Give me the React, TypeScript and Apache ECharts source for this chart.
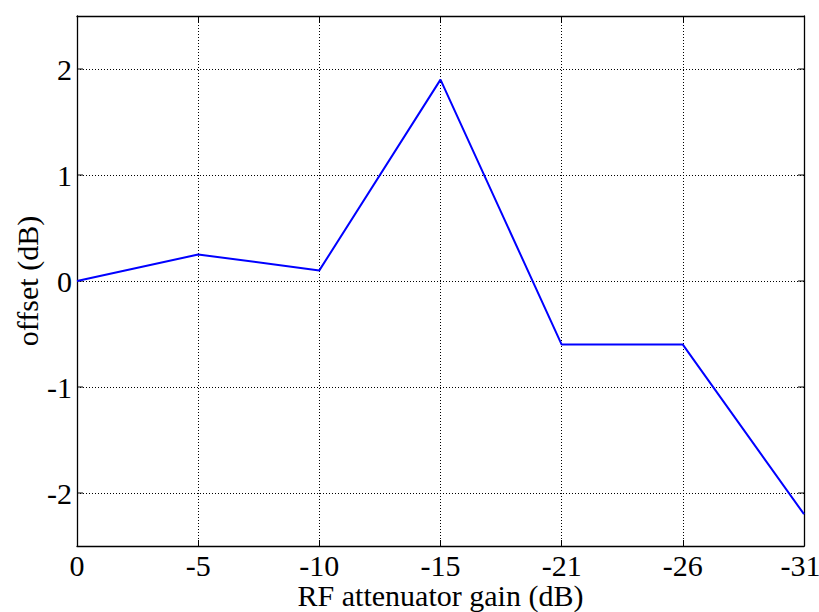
import React, { useEffect, useRef } from "react";
import * as echarts from "echarts";

const categories = ["0", "-5", "-10", "-15", "-21", "-26", "-31"];
const offsetValues = [0, 0.25, 0.1, 1.9, -0.6, -0.6, -2.2];
const yTicks = [-2, -1, 0, 1, 2];

export default function App() {
  const ref = useRef<HTMLDivElement>(null);
  useEffect(() => {
    if (!ref.current) return;
    const chart = echarts.init(ref.current, undefined, { renderer: "svg" });
    const font = "Liberation Serif";
    const fs = 30;
    const lastIdx = categories.length - 1;
    const gridLine = { show: true, lineStyle: { color: "#000", type: [1, 2] as any, width: 1 } };
    chart.setOption({
      animation: false,
      backgroundColor: "#fff",
      grid: { left: 77, right: 15, top: 16, bottom: 66, show: false, outerBoundsMode: "none", containLabel: false } as any,
      xAxis: [
        {
          type: "category",
          data: categories,
          boundaryGap: false,
          axisLine: { show: true, onZero: false, lineStyle: { color: "#000", width: 1.3 } },
          axisTick: { show: true, inside: true, length: 6, lineStyle: { color: "#000" } },
          axisLabel: {
            color: "#000",
            fontFamily: font,
            fontSize: fs,
            margin: 4,
            hideOverlap: false,
            formatter: (v: string, i: number) => (i === lastIdx ? `{e|${v}}` : v),
            rich: { e: { color: "#000", fontFamily: font, fontSize: fs, padding: [0, 7, 0, 0] } },
          },
          splitLine: gridLine,
          name: "RF attenuator gain (dB)",
          nameLocation: "middle",
          nameGap: 34,
          nameMoveOverlap: false,
          nameTextStyle: { color: "#000", fontFamily: font, fontSize: fs },
        },
        {
          type: "category",
          data: categories,
          boundaryGap: false,
          position: "top",
          axisLine: { show: true, onZero: false, lineStyle: { color: "#000", width: 1.3 } },
          axisTick: { show: true, inside: true, length: 6, lineStyle: { color: "#000" } },
          axisLabel: { show: false },
          splitLine: { show: false },
        },
      ],
      yAxis: [
        {
          type: "value",
          min: -2.5,
          max: 2.5,
          interval: 0.5,
          axisLine: { show: true, onZero: false, lineStyle: { color: "#000", width: 1.3 } },
          axisTick: { show: false },
          axisLabel: {
            color: "#000",
            fontFamily: font,
            fontSize: fs,
            margin: 5,
            formatter: (v: number) => (yTicks.includes(v) ? String(v) : ""),
          },
          splitLine: { show: false },
          name: "offset (dB)",
          nameLocation: "middle",
          nameGap: 35,
          nameMoveOverlap: false,
          nameTextStyle: { color: "#000", fontFamily: font, fontSize: fs },
        },
        {
          type: "value",
          min: -2.5,
          max: 2.5,
          interval: 0.5,
          position: "right",
          axisLine: { show: true, onZero: false, lineStyle: { color: "#000", width: 1.3 } },
          axisTick: { show: false },
          axisLabel: { show: false },
          splitLine: { show: false },
        },
      ],
      series: [
        {
          type: "line",
          data: yTicks.map(() => null),
          showSymbol: false,
          silent: true,
          markLine: {
            silent: true,
            symbol: "none",
            label: { show: false },
            lineStyle: { color: "#000", type: [1, 2] as any, width: 1 },
            data: yTicks.map((v) => ({ yAxis: v })),
          },
        },
        {
          type: "line",
          data: offsetValues,
          showSymbol: false,
          lineStyle: { color: "#0000ff", width: 2 },
          itemStyle: { color: "#0000ff" },
          z: 5,
        },
      ],
    } as any);
    const x0 = chart.convertToPixel({ xAxisIndex: 0 }, 0) as number;
    const x1 = chart.convertToPixel({ xAxisIndex: 0 }, lastIdx) as number;
    const tickEls: any[] = [];
    yTicks.forEach((v) => {
      const py = chart.convertToPixel({ yAxisIndex: 0 }, v) as number;
      tickEls.push({ type: "line", shape: { x1: x0, y1: py, x2: x0 + 6, y2: py }, style: { stroke: "#000", lineWidth: 1 } });
      tickEls.push({ type: "line", shape: { x1: x1 - 6, y1: py, x2: x1, y2: py }, style: { stroke: "#000", lineWidth: 1 } });
    });
    chart.setOption({ graphic: tickEls });
    return () => chart.dispose();
  }, []);
  return (
    <div
      ref={ref}
      style={{ position: "absolute", left: 0, top: 0, width: 819, height: 612, overflow: "hidden" }}
    />
  );
}
